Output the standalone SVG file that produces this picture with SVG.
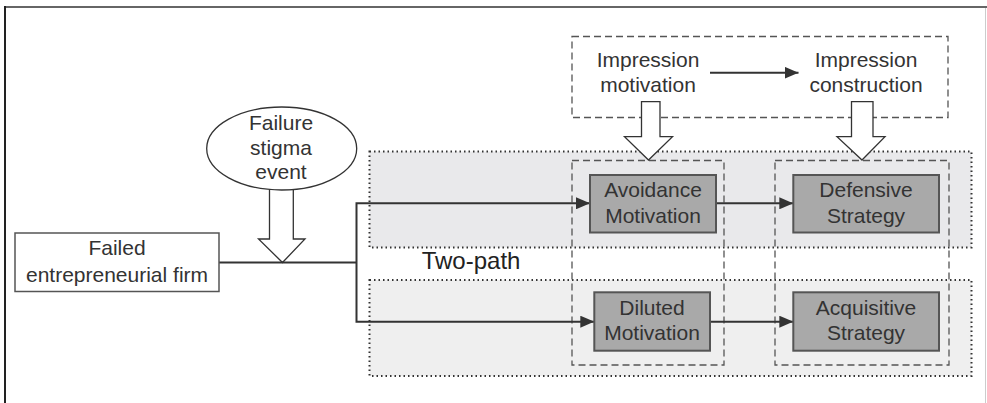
<svg xmlns="http://www.w3.org/2000/svg" width="987" height="403" viewBox="0 0 987 403">
<style>
text{font-family:"Liberation Sans",Arial,sans-serif;font-size:21px;fill:#333;text-anchor:middle}
.region{stroke:#333;stroke-width:2;stroke-dasharray:1.5 3}
.dash{fill:none;stroke:#555;stroke-width:1.3;stroke-dasharray:7 4}
.box{fill:#a9a9a9;stroke:#555;stroke-width:2}
.line{fill:none;stroke:#333;stroke-width:2}
.hollow{fill:#fff;stroke:#333;stroke-width:1.3;stroke-linejoin:miter}
</style>
<defs>
<marker id="ah" viewBox="0 0 14 12" refX="14" refY="6" markerWidth="14" markerHeight="12" markerUnits="userSpaceOnUse" orient="auto-start-reverse">
<path d="M0,0 L14,6 L0,12 Z" fill="#333"/>
</marker>
</defs>
<rect width="987" height="403" fill="#fff"/>
<g id="frame">
<line x1="5" y1="7" x2="987" y2="7" stroke="#666" stroke-width="2"/>
<line x1="5" y1="6" x2="5" y2="403" stroke="#222" stroke-width="2"/>
<line x1="985.5" y1="8" x2="985.5" y2="403" stroke="#ccc" stroke-width="1"/>
</g>
<g id="regions">
<rect id="region-top" class="region" x="369.5" y="151.5" width="602" height="96" fill="#e9e9eb"/>
<rect id="region-bottom" class="region" x="369.5" y="280" width="602" height="96" fill="#efefef"/>
</g>
<g id="impression">
<rect class="dash" x="572" y="36.5" width="376" height="81"/>
<text x="648" y="66.7">Impression</text>
<text x="648" y="91.7">motivation</text>
<text x="866" y="66.7">Impression</text>
<text x="866" y="91.7">construction</text>
</g>
<g id="columns">
<rect class="dash" x="572" y="160.5" width="152" height="204.5"/>
<rect class="dash" x="775" y="160.5" width="174" height="204.5"/>
</g>
<g id="connectors">
<line class="line" x1="710" y1="72.7" x2="798.5" y2="72.7" marker-end="url(#ah)"/>
<line class="line" x1="219" y1="262.5" x2="357" y2="262.5" stroke-width="3"/>
<path class="line" d="M590,203.3 H356.5 V321.7 H594.3" marker-start="url(#ah)" marker-end="url(#ah)"/>
<line class="line" x1="716" y1="203.3" x2="793.3" y2="203.3" marker-end="url(#ah)"/>
<line class="line" x1="710" y1="321.7" x2="793.3" y2="321.7" marker-end="url(#ah)"/>
<path class="hollow" d="M641.5,101.7 H660 V136.7 H672.5 L648.5,160 L624.5,136.7 H641.5 Z"/>
<path class="hollow" d="M851.5,101.7 H873 V136.7 H885 L862,160 L837,136.7 H851.5 Z"/>
<path class="hollow" d="M269.5,189 H293.3 V239 H305 L282.5,262.5 L258.5,239 H269.5 Z"/>
</g>
<g id="failure-stigma-event">
<ellipse cx="281.7" cy="148.5" rx="75" ry="41.5" fill="#fff" stroke="#333" stroke-width="1.3"/>
<text x="281" y="130">Failure</text>
<text x="281" y="155">stigma</text>
<text x="281" y="179">event</text>
</g>
<g id="failed-firm">
<rect x="15" y="233" width="204" height="58.5" fill="#fff" stroke="#555" stroke-width="1.5"/>
<text x="117" y="255">Failed</text>
<text x="117" y="281.7">entrepreneurial firm</text>
</g>
<g id="two-path">
<text x="421.7" y="269.3" style="font-size:24px;text-anchor:start;fill:#222">Two-path</text>
</g>
<g id="avoidance-motivation">
<rect class="box" x="590" y="175" width="126" height="57.5"/>
<text x="653" y="197.3">Avoidance</text>
<text x="653" y="222.7">Motivation</text>
</g>
<g id="defensive-strategy">
<rect class="box" x="793.3" y="175" width="145.7" height="57.5"/>
<text x="866" y="197.3">Defensive</text>
<text x="866" y="222.7">Strategy</text>
</g>
<g id="diluted-motivation">
<rect class="box" x="594.3" y="292.3" width="115.7" height="58.4"/>
<text x="652" y="315">Diluted</text>
<text x="652" y="340">Motivation</text>
</g>
<g id="acquisitive-strategy">
<rect class="box" x="793.3" y="292.3" width="145.7" height="58.4"/>
<text x="866" y="315">Acquisitive</text>
<text x="866" y="340">Strategy</text>
</g>
</svg>
